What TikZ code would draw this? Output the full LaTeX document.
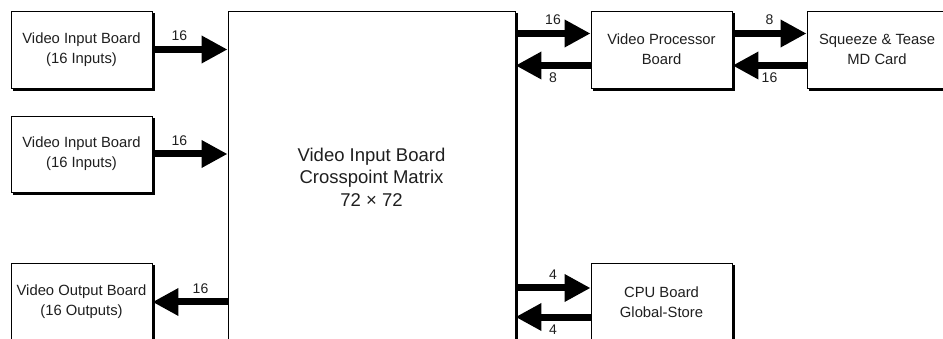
\documentclass[tikz,border=0pt]{standalone}
\usepackage{fontspec}
\setmainfont{Liberation Sans}
\usetikzlibrary{arrows.meta}
\begin{document}
\begin{tikzpicture}[x=1pt,y=-1pt,
 board/.style={draw=black,line width=0.9pt,fill=white,text=black!88,align=center,inner sep=0pt,
   font=\fontsize{14.8}{20}\selectfont},
 shadowline/.style={line width=2.4pt,black},
 bus/.style={line width=7pt,-{Triangle[length=26pt,width=26pt]}},
 lab/.style={font=\fontsize{14}{14}\selectfont,inner sep=0pt,text=black!88}]
\useasboundingbox (0,0) rectangle (943,339);
\clip (0,0) rectangle (943,339);
\node[board,minimum width=141pt,minimum height=77pt] (in1) at (81.5,49.5) {Video Input Board\\(16 Inputs)};
\node[board,minimum width=141pt,minimum height=76pt] (in2) at (81.5,154) {Video Input Board\\(16 Inputs)};
\node[board,minimum width=141pt,minimum height=78pt] (out) at (81.5,302) {Video Output Board\\(16 Outputs)};
\node[board,minimum width=287pt,minimum height=332pt,font=\fontsize{18.5}{22.5}\selectfont] (main) at (371.5,177) {Video Input Board\\Crosspoint Matrix\\72 × 72};
\node[board,minimum width=141pt,minimum height=77pt] (vpb) at (661.5,49.5) {Video Processor\\Board};
\node[board,minimum width=140pt,minimum height=77pt] (sq) at (877,49.5) {Squeeze \& Tease\\MD Card};
\node[board,minimum width=141pt,minimum height=79pt] (cpu) at (661.5,302.5) {CPU Board\\Global-Store};
\foreach \n in {in1,in2,out,main,vpb,sq,cpu}
  \draw[shadowline] ([xshift=1.6pt,yshift=-2.5pt]\n.north east) -- ([xshift=1.6pt,yshift=-1.6pt]\n.south east) -- ([xshift=2.5pt,yshift=-1.6pt]\n.south west);
\coordinate (v1) at ([yshift=16pt]vpb.west);
\coordinate (v2) at ([yshift=-16pt]vpb.west);
\coordinate (v3) at ([yshift=16pt]vpb.east);
\coordinate (v4) at ([yshift=-16pt]vpb.east);
\coordinate (c1) at ([yshift=14.5pt]cpu.west);
\coordinate (c2) at ([yshift=-14.5pt]cpu.west);
\draw[bus] (in1.east) -- (in1.east -| main.west) node[lab,above=5pt,pos=0.36]{16};
\draw[bus] (in2.east) -- (in2.east -| main.west) node[lab,above=5pt,pos=0.36]{16};
\draw[bus] (out.east -| main.west) -- (out.east) node[lab,above=5pt,pos=0.36]{16};
\draw[bus] (v1 -| main.east) -- (v1) node[lab,above=5pt,pos=0.5]{16};
\draw[bus] (v2) -- (v2 -| main.east) node[lab,below=4pt,pos=0.5]{8};
\draw[bus] (v3) -- (v3 -| sq.west) node[lab,above=5pt,pos=0.5]{8};
\draw[bus] (v4 -| sq.west) -- (v4) node[lab,below=4pt,pos=0.5]{16};
\draw[bus] (c1 -| main.east) -- (c1) node[lab,above=5pt,pos=0.5]{4};
\draw[bus] (c2) -- (c2 -| main.east) node[lab,below=4pt,pos=0.5]{4};
\end{tikzpicture}
\end{document}
